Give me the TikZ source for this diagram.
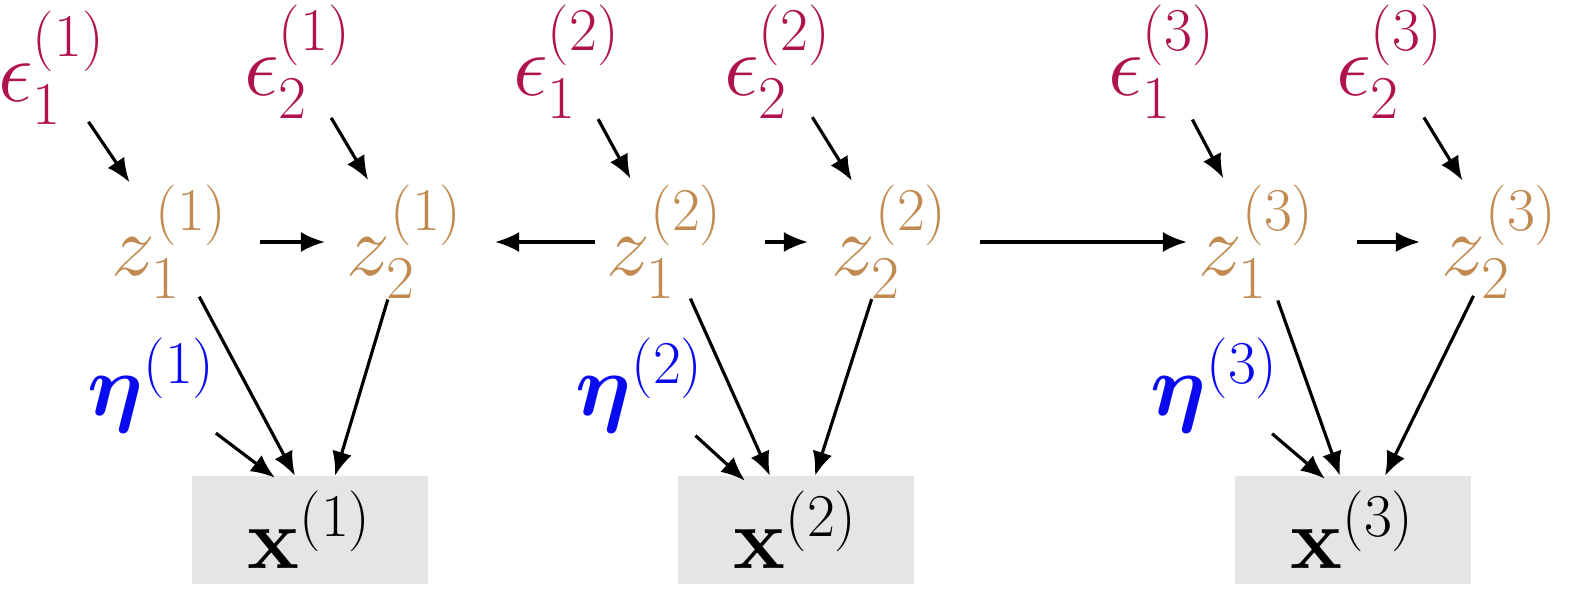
\documentclass[tikz,border=0pt]{standalone}
\usepackage{amsmath,bm}
\usetikzlibrary{arrows.meta}
\definecolor{epscol}{HTML}{B0124E}
\definecolor{zcol}{HTML}{C08A50}
\definecolor{etacol}{HTML}{0A0AF0}
\tikzset{
  eps/.style={inner sep=0pt, text=epscol, font=\fontsize{23}{27}\selectfont},
  lat/.style={inner sep=0pt, text=zcol, font=\fontsize{23}{27}\selectfont},
  noise/.style={inner sep=0pt, text=etacol, font=\fontsize{23}{27}\selectfont},
  obs/.style={fill=gray!20, minimum width=2.35cm, minimum height=1.07cm, inner sep=0pt, font=\fontsize{23}{27}\selectfont},
  arr/.style={-{Latex[length=0.24cm,width=0.2cm]}, line width=0.9pt}
}
\begin{document}
\begin{tikzpicture}[x=0.01cm, y=-0.01cm]
    \useasboundingbox (0,0) rectangle (1569,601);

    \node [eps] (e11) at (52,68) {$\epsilon_1^{(1)}$};
    \node [eps] (e21) at (298,62) {$\epsilon_2^{(1)}$};
    \node [eps] (e12) at (567,62) {$\epsilon_1^{(2)}$};
    \node [eps] (e22) at (778,62) {$\epsilon_2^{(2)}$};
    \node [eps] (e13) at (1162,62) {$\epsilon_1^{(3)}$};
    \node [eps] (e23) at (1390,62) {$\epsilon_2^{(3)}$};

    \node [lat] (z11) at (170,242) {$z_1^{(1)}$};
    \node [lat] (z21) at (405,242) {$z_2^{(1)}$};
    \node [lat] (z12) at (665,242) {$z_1^{(2)}$};
    \node [lat] (z22) at (890,242) {$z_2^{(2)}$};
    \node [lat] (z13) at (1257,242) {$z_1^{(3)}$};
    \node [lat] (z23) at (1500,242) {$z_2^{(3)}$};

    \node [noise] (eta1) at (152,385) {$\bm{\eta}^{(1)}$};
    \node [noise] (eta2) at (640,385) {$\bm{\eta}^{(2)}$};
    \node [noise] (eta3) at (1215,385) {$\bm{\eta}^{(3)}$};

    \node [obs] (x1) at (310,530) {$\mathbf{x}^{(1)}$};
    \node [obs] (x2) at (796,530) {$\mathbf{x}^{(2)}$};
    \node [obs] (x3) at (1353,530) {$\mathbf{x}^{(3)}$};

    % noise into latents
    \foreach \e/\z in {e11/z11, e21/z21, e12/z12, e22/z22, e13/z13, e23/z23}
      \draw [arr, shorten <=0.65cm, shorten >=0.72cm] (\e.center) -- (\z.center);

    % latent to latent
    \draw [arr, shorten <=0.9cm, shorten >=0.8cm] (z11.center) -- (z21.center);
    \draw [arr, shorten <=0.7cm, shorten >=0.9cm] (z12.center) -- (z21.center);
    \draw [arr, shorten <=1.0cm, shorten >=0.82cm] (z12.center) -- (z22.center);
    \draw [arr, shorten <=0.9cm, shorten >=0.7cm] (z22.center) -- (z13.center);
    \draw [arr, shorten <=1.0cm, shorten >=0.8cm] (z13.center) -- (z23.center);

    % into observations
    \draw [arr, shorten <=0.62cm] (z11.center) -- ([xshift=-0.15cm]x1.north);
    \draw [arr, shorten <=0.6cm] (z21.center) -- ([xshift=0.25cm]x1.north);
    \draw [arr, shorten <=0.8cm] (eta1.center) -- ([xshift=-0.35cm, yshift=-0.02cm]x1.north);
    \draw [arr, shorten <=0.62cm] (z12.center) -- ([xshift=-0.26cm]x2.north);
    \draw [arr, shorten <=0.6cm] (z22.center) -- ([xshift=0.19cm]x2.north);
    \draw [arr, shorten <=0.75cm] (eta2.center) -- ([xshift=-0.51cm, yshift=-0.05cm]x2.north);
    \draw [arr, shorten <=0.62cm] (z13.center) -- ([xshift=-0.13cm]x3.north);
    \draw [arr, shorten <=0.6cm] (z23.center) -- ([xshift=0.32cm]x3.north);
    \draw [arr, shorten <=0.75cm] (eta3.center) -- ([xshift=-0.28cm, yshift=-0.03cm]x3.north);
\end{tikzpicture}
\end{document}
